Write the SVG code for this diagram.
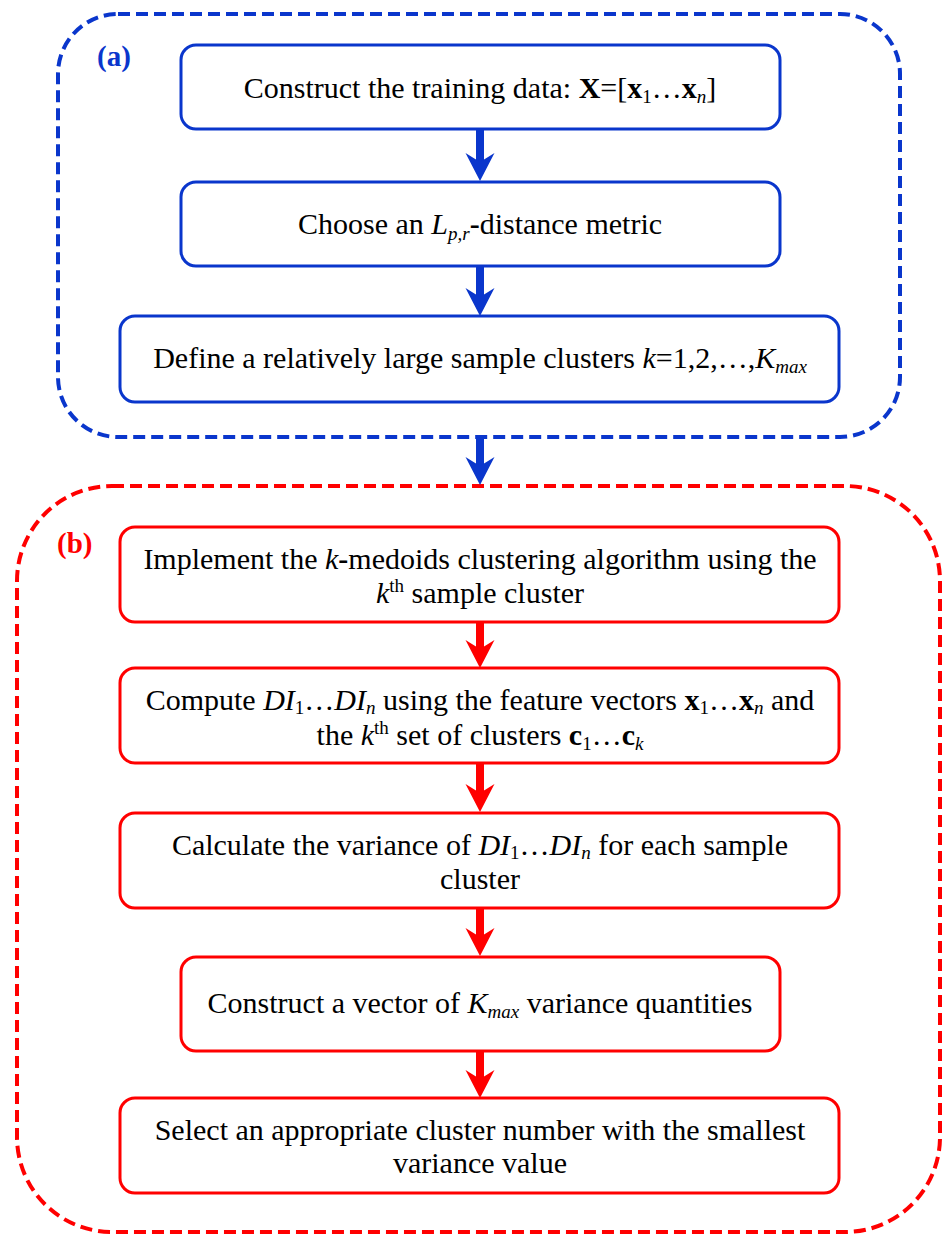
<svg xmlns="http://www.w3.org/2000/svg" width="944" height="1235" viewBox="0 0 944 1235">
<style>
.bg{fill:#ffffff}
.grpA{fill:none;stroke:#0a36cc;stroke-width:4;stroke-dasharray:12 6}
.grpB{fill:none;stroke:#ff0000;stroke-width:4;stroke-dasharray:12 6}
.nA{fill:#ffffff;stroke:#0a36cc;stroke-width:3}
.nB{fill:#ffffff;stroke:#ff0000;stroke-width:3}
.t{font-family:"Liberation Serif","Times New Roman",serif;font-size:30px;fill:#000;text-anchor:middle}
.lab{font-family:"Liberation Serif","Times New Roman",serif;font-size:29px;font-weight:bold}
.sub{font-size:19px}
.i{font-style:italic}
.b{font-weight:bold}
.cA{stroke:#0a36cc;stroke-width:8;fill:none}
.cB{stroke:#ff0000;stroke-width:8;fill:none}
</style>
<defs>
<marker id="hA" viewBox="0 -15 30 30" refX="16" refY="0" markerWidth="30" markerHeight="30" markerUnits="userSpaceOnUse" orient="auto">
<path d="M0,-14.5 L28,0 L0,14.5 L9,0 z" fill="#0a36cc"/>
</marker>
<marker id="hB" viewBox="0 -15 30 30" refX="16" refY="0" markerWidth="30" markerHeight="30" markerUnits="userSpaceOnUse" orient="auto">
<path d="M0,-14.5 L28,0 L0,14.5 L9,0 z" fill="#ff0000"/>
</marker>
</defs>
<rect class="bg" x="0" y="0" width="944" height="1235"/>
<g id="groupA">
<rect class="grpA" x="58" y="14" width="842" height="423" rx="60" ry="60"/>
<text class="lab" x="97" y="66" fill="#0a36cc">(a)</text>
</g>
<g id="groupB">
<rect class="grpB" x="17" y="486" width="923" height="746" rx="95" ry="95"/>
<text class="lab" x="57" y="553" fill="#ff0000">(b)</text>
</g>
<g id="connectors">
<line class="cA" x1="480" y1="129" x2="480" y2="169" marker-end="url(#hA)"/>
<line class="cA" x1="480" y1="266" x2="480" y2="304" marker-end="url(#hA)"/>
<line class="cA" x1="480" y1="437" x2="480" y2="473" marker-end="url(#hA)"/>
<line class="cB" x1="480" y1="622" x2="480" y2="656" marker-end="url(#hB)"/>
<line class="cB" x1="480" y1="763" x2="480" y2="800" marker-end="url(#hB)"/>
<line class="cB" x1="480" y1="908" x2="480" y2="944" marker-end="url(#hB)"/>
<line class="cB" x1="480" y1="1051" x2="480" y2="1086" marker-end="url(#hB)"/>
</g>
<g id="n1">
<rect class="nA" x="181" y="45" width="599" height="84" rx="15"/>
<text class="t" x="480" y="98">Construct the training data: <tspan class="b">X</tspan>=[<tspan class="b">x</tspan><tspan class="sub" dy="5">1</tspan><tspan dy="-5">…</tspan><tspan class="b">x</tspan><tspan class="sub i" dy="5">n</tspan><tspan dy="-5">]</tspan></text>
</g>
<g id="n2">
<rect class="nA" x="181" y="182" width="599" height="84" rx="15"/>
<text class="t" x="480" y="234">Choose an <tspan class="i">L</tspan><tspan class="sub i" dy="6">p,r</tspan><tspan class="b" dy="-6">-</tspan>distance metric</text>
</g>
<g id="n3">
<rect class="nA" x="120" y="316" width="719" height="86" rx="15"/>
<text class="t" x="480" y="368">Define a relatively large sample clusters <tspan class="i">k</tspan>=1,2,…,<tspan class="i">K</tspan><tspan class="sub i" dy="5">max</tspan></text>
</g>
<g id="n4">
<rect class="nB" x="120" y="527" width="719" height="95" rx="15"/>
<text class="t" x="480" y="569">Implement the <tspan class="i">k</tspan><tspan class="b">-</tspan>medoids clustering algorithm using the</text>
<text class="t" x="480" y="603"><tspan class="i">k</tspan><tspan class="sub" dy="-11">th</tspan><tspan dy="11"> sample cluster</tspan></text>
</g>
<g id="n5">
<rect class="nB" x="120" y="668" width="719" height="95" rx="15"/>
<text class="t" x="480" y="710">Compute <tspan class="i">DI</tspan><tspan class="sub" dy="4">1</tspan><tspan dy="-4">…</tspan><tspan class="i">DI</tspan><tspan class="sub i" dy="4">n</tspan><tspan dy="-4"> using the feature vectors </tspan><tspan class="b">x</tspan><tspan class="sub" dy="4">1</tspan><tspan dy="-4">…</tspan><tspan class="b">x</tspan><tspan class="sub i" dy="4">n</tspan><tspan dy="-4"> and</tspan></text>
<text class="t" x="480" y="745">the <tspan class="i">k</tspan><tspan class="sub" dy="-11">th</tspan><tspan dy="11"> set of clusters </tspan><tspan class="b">c</tspan><tspan class="sub" dy="5">1</tspan><tspan dy="-5">…</tspan><tspan class="b">c</tspan><tspan class="sub i" dy="5">k</tspan></text>
</g>
<g id="n6">
<rect class="nB" x="120" y="813" width="719" height="95" rx="15"/>
<text class="t" x="480" y="855">Calculate the variance of <tspan class="i">DI</tspan><tspan class="sub" dy="4">1</tspan><tspan dy="-4">…</tspan><tspan class="i">DI</tspan><tspan class="sub i" dy="4">n</tspan><tspan dy="-4"> for each sample</tspan></text>
<text class="t" x="480" y="889">cluster</text>
</g>
<g id="n7">
<rect class="nB" x="181" y="957" width="599" height="94" rx="15"/>
<text class="t" x="480" y="1013">Construct a vector of <tspan class="i">K</tspan><tspan class="sub i" dy="5">max</tspan><tspan dy="-5"> variance quantities</tspan></text>
</g>
<g id="n8">
<rect class="nB" x="120" y="1098" width="719" height="95" rx="15"/>
<text class="t" x="480" y="1140">Select an appropriate cluster number with the smallest</text>
<text class="t" x="480" y="1173">variance value</text>
</g>
</svg>
